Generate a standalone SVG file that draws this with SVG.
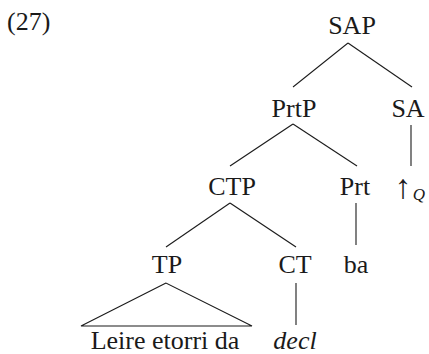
<svg xmlns="http://www.w3.org/2000/svg" width="429" height="354" viewBox="0 0 429 354">
  <style>
    text { font-family: 'Liberation Serif', 'DejaVu Serif', serif; font-size: 26px; fill: #1a1a1a; text-anchor: middle; }
    .it { font-style: italic; }
    .edges line, .edges polygon { stroke: #1a1a1a; stroke-width: 1.1; fill: none; }
  </style>
  <rect width="429" height="354" fill="#ffffff"/>
  <text x="7" y="30" style="text-anchor:start">(27)</text>

  <g class="edges">
    <line x1="348" y1="43" x2="293" y2="87"/>
    <line x1="348" y1="43" x2="412" y2="87"/>
    <line x1="293" y1="124" x2="230" y2="166"/>
    <line x1="293" y1="124" x2="357" y2="166"/>
    <line x1="411" y1="125" x2="411" y2="166"/>
    <line x1="230" y1="203" x2="166" y2="247"/>
    <line x1="230" y1="203" x2="296" y2="247"/>
    <line x1="356" y1="203" x2="356" y2="245"/>
    <polygon points="166,283 81,326 252,326"/>
    <line x1="296" y1="283" x2="296" y2="325"/>
  </g>

  <g id="SAP"><text x="352" y="34">SAP</text></g>
  <g id="PrtP"><text x="294" y="117">PrtP</text></g>
  <g id="SA"><text x="408" y="117">SA</text></g>
  <g id="CTP"><text x="232" y="195">CTP</text></g>
  <g id="Prt"><text x="355" y="195">Prt</text></g>
  <g id="arrowQ"><text x="403" y="198" style="font-size:34px">↑</text><text class="it" x="419" y="200" style="font-size:17px">Q</text></g>
  <g id="TP"><text x="167" y="273">TP</text></g>
  <g id="CT"><text x="295" y="273">CT</text></g>
  <g id="ba"><text x="356" y="273">ba</text></g>
  <g id="leire"><text x="165" y="349">Leire etorri da</text></g>
  <g id="decl"><text class="it" x="295" y="349">decl</text></g>
</svg>
